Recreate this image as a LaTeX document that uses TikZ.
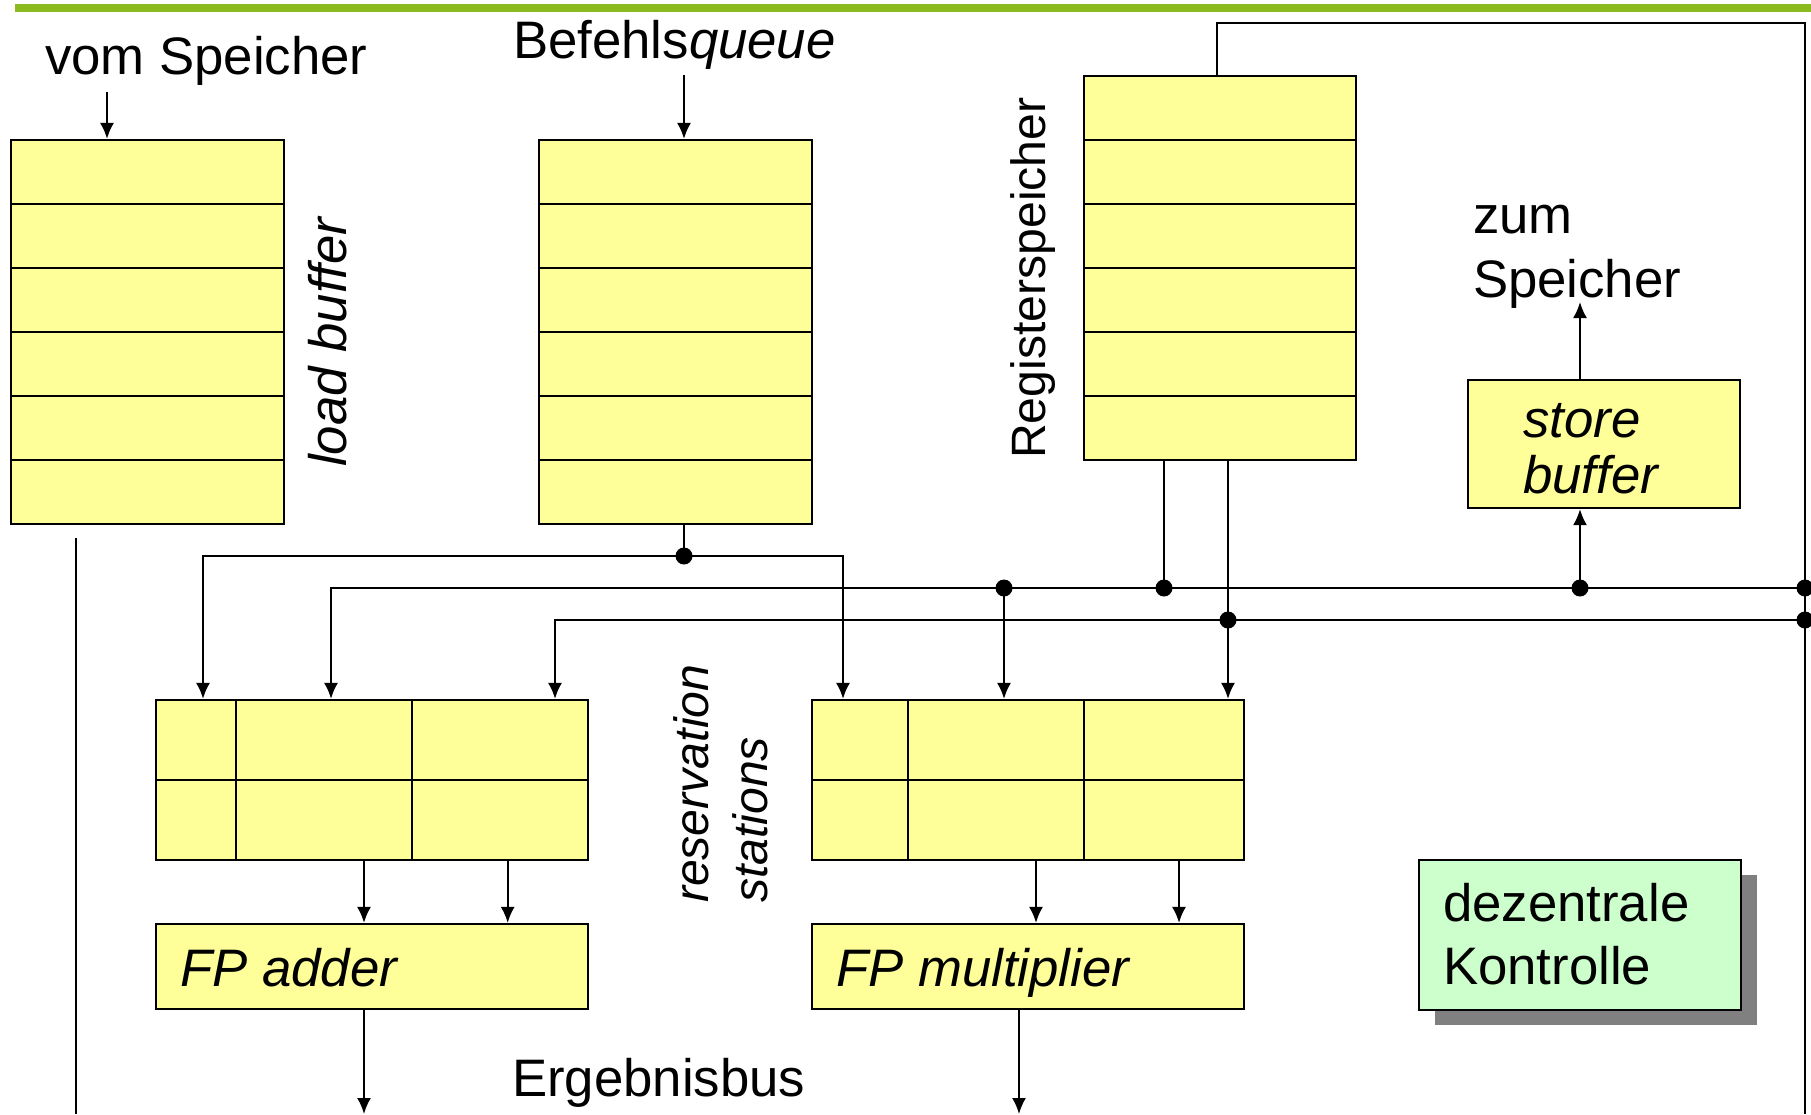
\documentclass[tikz,border=0pt]{standalone}
\usepackage{fontspec}
\setmainfont{Liberation Sans}
\usetikzlibrary{arrows.meta,shadows}

\definecolor{boxyellow}{RGB}{255,255,153}
\definecolor{ctrlgreen}{RGB}{204,255,204}
\definecolor{bargreen}{RGB}{140,187,32}

\begin{document}
\begin{tikzpicture}[x=0.01cm,y=-0.01cm,line width=0.6pt,
  >={Latex[length=0.16cm,width=0.14cm]},
  cell/.style={draw,fill=boxyellow,inner sep=0pt,minimum width=2.72cm,minimum height=0.64cm},
  box/.style={draw,fill=boxyellow,inner sep=0pt},
  txt/.style={inner sep=0pt,font=\fontsize{15}{17}\selectfont},
  smalltxt/.style={inner sep=0pt,font=\fontsize{13.7}{16}\selectfont}]

\useasboundingbox (0,0) rectangle (1811,1114);
\draw[bargreen,line width=0.08cm] (15,8) -- (1811,8);

\foreach \i in {0,...,5} {
\node[cell] (lb\i) at (147.5,172+64*\i) {};
\node[cell] (bq\i) at (675.5,172+64*\i) {};
\node[cell] (rf\i) at (1220,108+64*\i) {};
}
\node[box,minimum width=2.72cm,minimum height=1.28cm] (sb) at (1604,444) {};

\foreach \n/\x/\w in {1/195.7/0.8cm,2/323.7/1.76cm,3/499.7/1.76cm} {
\node[box,minimum width=\w,minimum height=0.8cm] (ra\n1) at (\x,740) {};
\node[box,minimum width=\w,minimum height=0.8cm] (ra\n2) at (\x,820) {};
}
\foreach \n/\x/\w in {1/859.7/0.96cm,2/995.7/1.76cm,3/1163.85/1.6cm} {
\node[box,minimum width=\w,minimum height=0.8cm] (rm\n1) at (\x,740) {};
\node[box,minimum width=\w,minimum height=0.8cm] (rm\n2) at (\x,820) {};
}
\node[box,minimum width=4.32cm,minimum height=0.85cm] (fpa) at (372,966.5) {};
\node[box,minimum width=4.32cm,minimum height=0.85cm] (fpm) at (1028,966.5) {};
\node[draw,fill=ctrlgreen,minimum width=3.22cm,minimum height=1.5cm,
  drop shadow={shadow xshift=0.16cm,shadow yshift=-0.15cm,fill=black!50,opacity=1}] (ctl) at (1580,935) {};

\node[txt,anchor=base west] (vom) at (44,74) {vom Speicher};
\node[txt,anchor=base west] (bef) at (512,58) {Befehls\textit{queue}};
\node[txt,anchor=base west,rotate=90] (lbl) at (346,468) {\textit{load buffer}};
\node[smalltxt,anchor=base west,rotate=90] (rfl) at (1045,460) {Registerspeicher};
\node[txt,anchor=base west,align=left] (zum) at (1472,297) {zum\\[0.04cm]Speicher};
\node[txt,anchor=base west,align=left] (sbl) at (1522,493) {\textit{store}\\[-0.04cm]\textit{buffer}};
\node[smalltxt,anchor=base west,rotate=90] (rsl1) at (708,904) {\textit{reservation}};
\node[smalltxt,anchor=base west,rotate=90] (rsl2) at (767,904) {\textit{stations}};
\node[txt,anchor=base west] (fpal) at (179,986) {\textit{FP adder}};
\node[txt,anchor=base west] (fpml) at (835,986) {\textit{FP multiplier}};
\node[txt,anchor=base west] (erg) at (511,1096) {Ergebnisbus};
\node[txt,anchor=base west,align=left] (ctll) at (1442,984) {dezentrale\\[0.03cm]Kontrolle};

\coordinate (li) at (107,92);
\coordinate (bi) at (684,75);
\coordinate (zs) at (1580,302);
\coordinate (qa) at (203,556);
\coordinate (qd) at (684,556);
\coordinate (qb) at (843,556);
\coordinate (ba) at (331,588);
\coordinate (bd1) at (1004,588);
\coordinate (bd2) at (1164,588);
\coordinate (bd3) at (1580,588);
\coordinate (be) at (1805,588);
\coordinate (ca) at (555,620);
\coordinate (cd) at (1228,620);
\coordinate (ce) at (1805,620);
\coordinate (ta) at (1216.7,23);
\coordinate (tb) at (1805,23);
\coordinate (tc) at (1805,1114);
\coordinate (la) at (76,538);
\coordinate (lz) at (76,1114);
\coordinate (oa) at (364,1114);
\coordinate (om) at (1019,1114);
\coordinate (fa1) at (364,0);
\coordinate (fa2) at (507.7,0);
\coordinate (fm1) at (1036,0);
\coordinate (fm2) at (1179,0);

\draw[->] (li) -- (li |- lb0.north);
\draw[->] (bi) -- (bi |- bq0.north);
\draw (qd |- bq5.south) -- (qd);
\draw[->] (qd) -- (qa) -- (qa |- ra11.north);
\draw[->] (qd) -- (qb) -- (qb |- rm11.north);
\draw[->] (be) -- (ba) -- (ba |- ra21.north);
\draw[->] (bd1) -- (bd1 |- rm21.north);
\draw (bd2 |- rf5.south) -- (bd2);
\draw[->] (bd3) -- (bd3 |- sb.south);
\draw[->] (bd3 |- sb.north) -- (zs);
\draw[->] (ce) -- (ca) -- (ca |- ra31.north);
\draw[->] (cd |- rf5.south) -- (cd |- rm31.north);
\draw (ta |- rf0.north) -- (ta) -- (tb) -- (tc);
\draw (la) -- (lz);
\draw[->] (fa1 |- ra22.south) -- (fa1 |- fpa.north);
\draw[->] (fa2 |- ra32.south) -- (fa2 |- fpa.north);
\draw[->] (fm1 |- rm22.south) -- (fm1 |- fpm.north);
\draw[->] (fm2 |- rm32.south) -- (fm2 |- fpm.north);
\draw[->] (oa |- fpa.south) -- (oa);
\draw[->] (om |- fpm.south) -- (om);
\foreach \p in {qd,bd1,bd2,bd3,be,cd,ce}
  \fill (\p) circle (0.085cm);
\end{tikzpicture}
\end{document}
